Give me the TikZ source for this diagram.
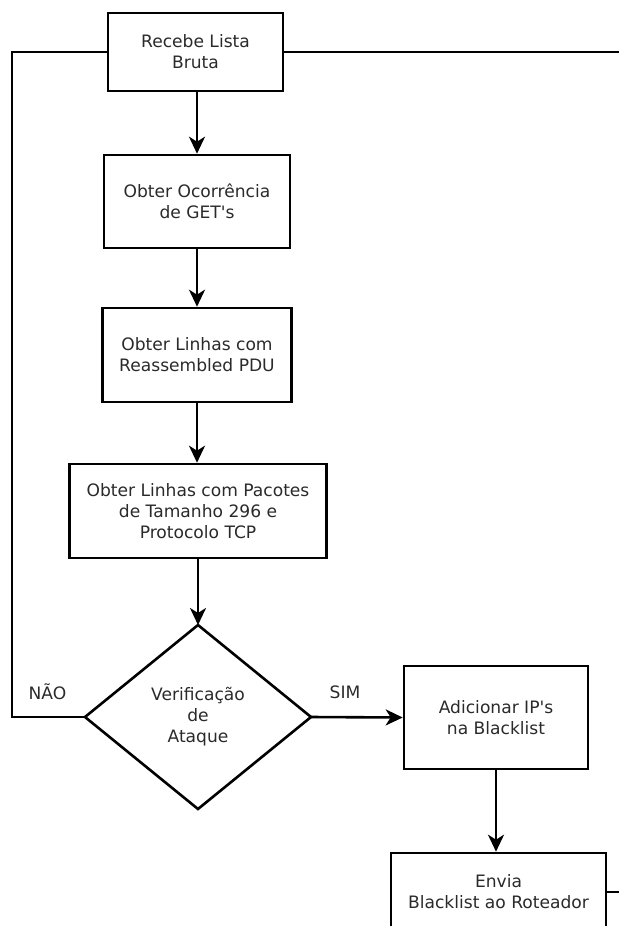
\documentclass[tikz,border=0pt]{standalone}
\usepackage{fontspec}
\setmainfont{DejaVu Sans}
\usetikzlibrary{shapes.geometric,arrows.meta}
\definecolor{txt}{HTML}{2A2A2A}
\begin{document}
\begin{tikzpicture}[x=1pt,y=-1pt,
  every node/.style={font=\fontsize{17.1}{21}\selectfont, text=txt},
  stepbox/.style={draw, rectangle, line width=2.6pt, align=center, inner sep=0pt},
  decision/.style={draw, diamond, line width=2.6pt, align=center, inner sep=0pt, outer sep=0pt},
  conn/.style={line width=2.6pt},
  arr/.style={line width=2.6pt, -{Stealth[length=17pt,width=16pt,inset=5pt]}},
  lbl/.style={anchor=base, inner sep=0pt}
]
\useasboundingbox (0,0) rectangle (619,926);
\clip (0,0) rectangle (619,926);

\node[stepbox, minimum width=175pt, minimum height=78pt] (b1) at (195.5,52) {Recebe Lista\\Bruta};
\node[stepbox, minimum width=186pt, minimum height=93pt] (b2) at (197,201.5) {Obter Ocorrência\\de GET\textquotesingle s};
\node[stepbox, minimum width=189pt, minimum height=94pt] (b3) at (197,355) {Obter Linhas com\\Reassembled PDU};
\node[stepbox, minimum width=257pt, minimum height=94pt] (b4) at (198,511) {Obter Linhas com Pacotes\\de Tamanho 296 e\\Protocolo TCP};
\node[decision, minimum width=226pt, minimum height=184pt] (d) at (198,717) {Verificação\\de\\Ataque};
\node[stepbox, minimum width=184pt, minimum height=103pt] (b5) at (496,717.5) {Adicionar IP\textquotesingle s\\na Blacklist};
\node[stepbox, minimum width=215pt, minimum height=78pt] (b6) at (498.5,892) {Envia\\Blacklist ao Roteador};

\node[lbl] (nao) at (47.5,699) {NÃO};
\node[lbl] (sim) at (345,698) {SIM};

\coordinate (l1) at (12,52);
\coordinate (l2) at (12,717);
\coordinate (r1) at (619,52);
\coordinate (r2) at (619,893);

\draw[arr] (b1.south -| b2.north) -- (b2.north);
\draw[arr] (b2.south) -- (b2.south |- b3.north);
\draw[arr] (b3.south) -- (b3.south |- b4.north);
\draw[arr] (b4.south) -- (d.north);
\draw[arr] (d.east) -- (b5.west);
\draw[arr] (b5.south) -- (b5.south |- b6.north);

\draw[conn] (b1.west) -- (l1) -- (l2) -- (d.west);
\draw[conn] (b1.east) -- (r1);
\draw[conn] (b6.east) -- (b6.east -| r2);
\end{tikzpicture}
\end{document}
